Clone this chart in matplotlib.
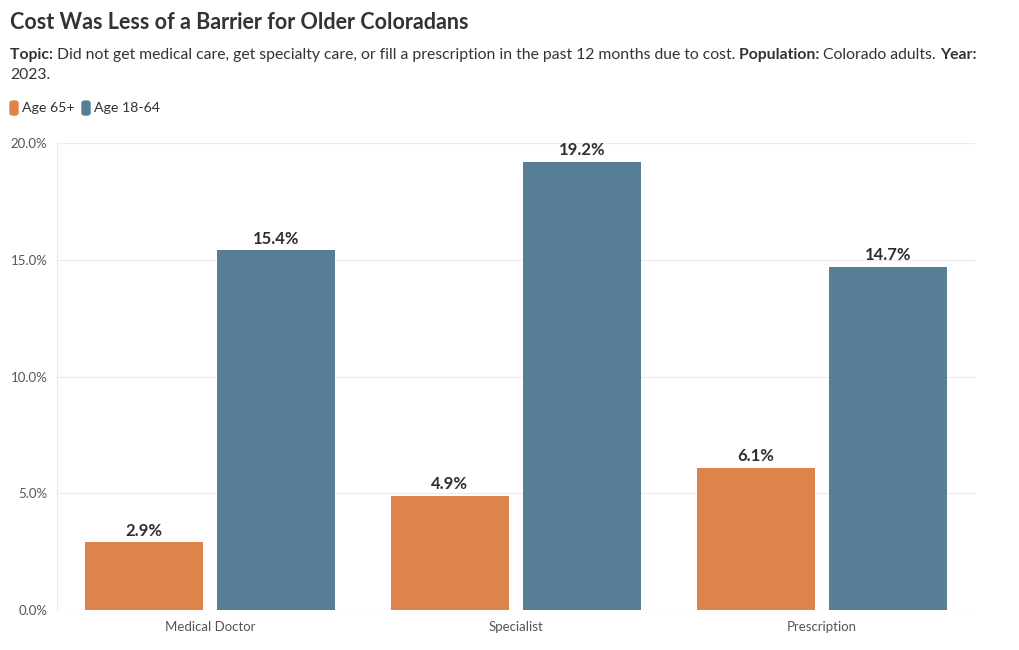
import numpy as np
import matplotlib.pyplot as plt
from matplotlib.patches import FancyBboxPatch

plt.rcParams['font.family'] = ['Lato', 'DejaVu Sans']

categories = ['Medical Doctor', 'Specialist', 'Prescription']
age_65 = [2.9, 4.9, 6.1]
age_18_64 = [15.4, 19.2, 14.7]
y_ticks = [0, 5, 10, 15, 20]

orange = '#de834b'
blue = '#567f97'
dark = '#333333'

fig = plt.figure(figsize=(10.2, 6.5), dpi=100)
ax = fig.add_axes([0.0559, 0.0615, 0.9, 0.7185])

x = np.arange(len(categories))
w = 0.386
b1 = ax.bar(x - 0.217, age_65, width=w, color=orange, zorder=3)
b2 = ax.bar(x + 0.217, age_18_64, width=w, color=blue, zorder=3)

# value labels
for bars, vals in [(b1, age_65), (b2, age_18_64)]:
    for r, v in zip(bars, vals):
        ax.text(r.get_x() + r.get_width() / 2, v + 0.15, f'{v:.1f}%',
                ha='center', va='bottom', fontsize=12, fontweight='bold',
                color='#2f2f2f')

ax.set_xlim(-0.5, 2.5)
ax.set_ylim(0, 20)
ax.set_yticks(y_ticks)
ax.set_yticklabels([f'{t:.1f}%' for t in y_ticks])
ax.set_xticks(x)
ax.set_xticklabels(categories)
ax.tick_params(axis='both', length=0, labelsize=9.5, colors='#555555')
ax.tick_params(axis='y', pad=7)
ax.tick_params(axis='x', pad=8)
ax.grid(axis='y', color='#ebebeb', linewidth=0.9, zorder=0)
for s in ['top', 'right', 'bottom']:
    ax.spines[s].set_visible(False)
ax.spines['left'].set_color('#ebebeb')

# title
fig.text(10 / 1020, 0.965, 'Cost Was Less of a Barrier for Older Coloradans',
         fontsize=15.5, fontweight='bold', color=dark, va='center')

# subtitle with bold parts, placed piece by piece
fig.canvas.draw()
renderer = fig.canvas.get_renderer()
sub = ('Did not get medical care, get specialty care, or fill a prescription '
       'in the past 12 months due to cost.')
parts = [('Topic: ', 'bold'), (sub + ' ', 'normal'), ('Population: ', 'bold'),
         ('Colorado adults. ', 'normal'), ('Year:', 'bold')]
xpos = 10
for txt, wgt in parts:
    t = fig.text(xpos / 1020, 0.915, txt, fontsize=11.3, fontweight=wgt,
                 color=dark, va='center')
    xpos += t.get_window_extent(renderer=renderer).width
fig.text(10 / 1020, 0.884, '2023.', fontsize=11.3, color=dark, va='center')

# legend
for lx, col, lab in [(10, orange, 'Age 65+'), (82, blue, 'Age 18-64')]:
    fig.patches.append(FancyBboxPatch((lx / 1020, 0.823), 8 / 1020, 14 / 650,
                                      boxstyle='round,pad=0,rounding_size=0.003',
                                      transform=fig.transFigure, color=col,
                                      figure=fig))
    fig.text((lx + 12) / 1020, 0.834, lab, fontsize=10.2, color=dark,
             va='center')

fig.savefig('out.png', dpi=100)
